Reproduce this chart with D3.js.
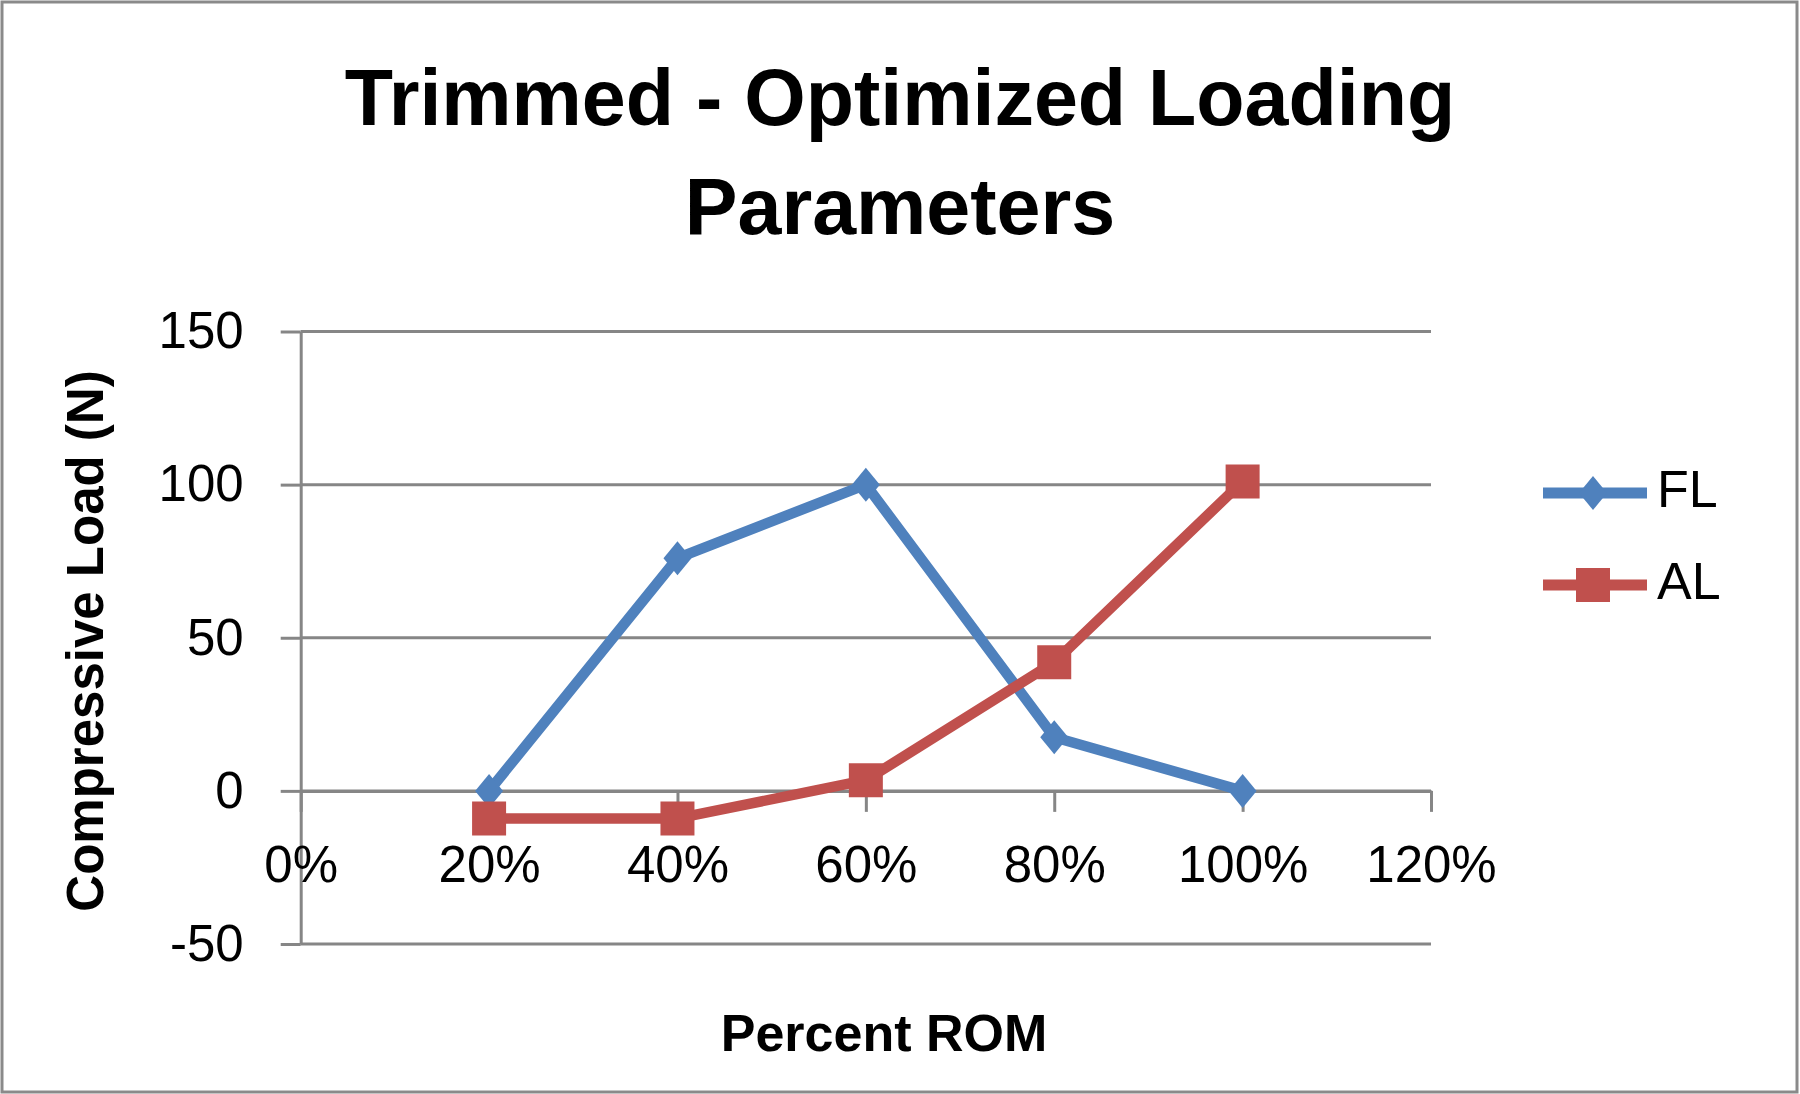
<!DOCTYPE html>
<html>
<head>
<meta charset="utf-8">
<script src="https://cdn.jsdelivr.net/npm/d3@7"></script>
<style>
  body { margin: 0; background: #fff; }
  text { font-family: "Liberation Sans", Arial, sans-serif; fill: #000; }
</style>
</head>
<body>
<svg id="chart"></svg>
<script>
// data
let percentRom = [0.2, 0.4, 0.6, 0.8, 1.0];
let flValues = [0, 76, 100, 17.5, 0];
let alValues = [-9, -9, 3.5, 42, 101];
let seriesNames = ["FL", "AL"];
let seriesColors = ["#4F81BD", "#C0504D"];

let xTicks = [0, 0.2, 0.4, 0.6, 0.8, 1.0, 1.2];
let yTicks = [-50, 0, 50, 100, 150];

let titleLines = ["Trimmed - Optimized Loading", "Parameters"];

let width = 1800;
let height = 1094;
let plot = { left: 300.7, right: 1431, top: 331.5, bottom: 944 };
let gridColor = "#868686";

let svg = d3.select("#chart")
    .attr("width", width)
    .attr("height", height);

// outer frame
svg.append("rect")
    .attr("x", 2).attr("y", 2)
    .attr("width", width - 5).attr("height", height - 4)
    .attr("fill", "#fff")
    .attr("stroke", "#8a8a8a")
    .attr("stroke-width", 3);

let xScale = d3.scaleLinear().domain([0, 1.2]).range([plot.left, plot.right]);
let yScale = d3.scaleLinear().domain([-50, 150]).range([plot.bottom, plot.top]);

// title
svg.selectAll(".title")
    .data(titleLines)
    .enter()
    .append("text")
    .attr("class", "title")
    .attr("x", 900)
    .attr("y", (d, i) => 125 + i * 109)
    .attr("text-anchor", "middle")
    .style("font-size", "79px")
    .style("font-weight", "bold")
    .text(d => d);

// horizontal gridlines
svg.selectAll(".grid")
    .data(yTicks)
    .enter()
    .append("line")
    .attr("class", "grid")
    .attr("x1", plot.left)
    .attr("x2", plot.right)
    .attr("y1", d => yScale(d))
    .attr("y2", d => yScale(d))
    .attr("stroke", gridColor)
    .attr("stroke-width", 3);

let yAxis = d3.axisLeft(yScale)
    .tickValues(yTicks)
    .tickSize(20)
    .tickSizeOuter(0)
    .tickPadding(37)
    .tickFormat(d => String(d));   // plain hyphen like the original

let xAxis = d3.axisBottom(xScale)
    .tickValues(xTicks)
    .tickSize(21)
    .tickSizeOuter(0)
    .tickPadding(34)
    .tickFormat(d3.format(".0%"));

let gy = svg.append("g")
    .attr("transform", `translate(${plot.left},0)`)
    .call(yAxis);

let gx = svg.append("g")
    .attr("transform", `translate(0,${yScale(0)})`)
    .call(xAxis);

[gx, gy].forEach(g => {
    g.select(".domain").attr("stroke", gridColor).attr("stroke-width", 3);
    g.selectAll(".tick line").attr("stroke", gridColor).attr("stroke-width", 3);
    g.selectAll(".tick text")
        .attr("fill", "#000")
        .style("font-family", "'Liberation Sans', Arial, sans-serif")
        .style("font-size", "51px");
});

// axis titles
svg.append("text")
    .attr("x", 884)
    .attr("y", 1051)
    .attr("text-anchor", "middle")
    .style("font-size", "52px")
    .style("font-weight", "bold")
    .text("Percent ROM");

svg.append("text")
    .attr("transform", "translate(103,641) rotate(-90)")
    .attr("text-anchor", "middle")
    .style("font-size", "51px")
    .style("font-weight", "bold")
    .text("Compressive Load (N)");

// series
let series = [
    { name: seriesNames[0], color: seriesColors[0], values: flValues, marker: "diamond" },
    { name: seriesNames[1], color: seriesColors[1], values: alValues, marker: "square" }
];

let diamond = (cx, cy) => `M${cx},${cy - 17}L${cx + 14},${cy}L${cx},${cy + 17}L${cx - 14},${cy}Z`;
let square = (cx, cy) => `M${cx - 17},${cy - 17}h34v34h-34Z`;
let markerPath = (type, cx, cy) => type === "diamond" ? diamond(cx, cy) : square(cx, cy);

let line = d3.line()
    .x(d => xScale(d[0]))
    .y(d => yScale(d[1]));

series.forEach(s => {
    let pts = percentRom.map((p, i) => [p, s.values[i]]);
    svg.append("path")
        .datum(pts)
        .attr("d", line)
        .attr("fill", "none")
        .attr("stroke", s.color)
        .attr("stroke-width", 10.5)
        .attr("stroke-linejoin", "round");

    svg.selectAll(".m-" + s.name)
        .data(pts)
        .enter()
        .append("path")
        .attr("class", "m-" + s.name)
        .attr("d", d => markerPath(s.marker, xScale(d[0]), yScale(d[1])))
        .attr("fill", s.color);
});

// legend
let legend = svg.append("g");
series.forEach((s, i) => {
    let ly = 493 + i * 92;
    legend.append("line")
        .attr("x1", 1543).attr("x2", 1647)
        .attr("y1", ly).attr("y2", ly)
        .attr("stroke", s.color)
        .attr("stroke-width", 11);
    legend.append("path")
        .attr("d", markerPath(s.marker, 1593, ly))
        .attr("fill", s.color);
    legend.append("text")
        .attr("x", 1657)
        .attr("y", ly + 14)
        .style("font-size", "52px")
        .text(s.name);
});
</script>
</body>
</html>
